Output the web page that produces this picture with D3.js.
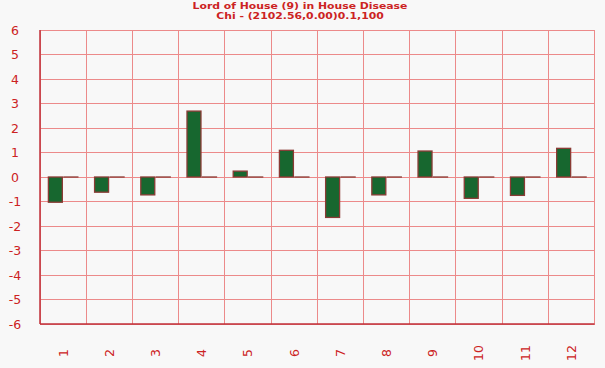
<!DOCTYPE html>
<html><head><meta charset="utf-8">
<script src="https://cdn.jsdelivr.net/npm/d3@7"></script>
<style>body{margin:0;background:#f8f8f8}svg{display:block}</style>
</head><body>
<svg id="c" width="605" height="368"></svg>
<script>
const categories = ["1","2","3","4","5","6","7","8","9","10","11","12"];
const seriesA = [-1.03,-0.62,-0.73,2.69,0.24,1.09,-1.65,-0.73,1.06,-0.87,-0.75,1.17];
const seriesB = [0,0,0,0,0,0,0,0,0,0,0,0];
const yTicks = [-6,-5,-4,-3,-2,-1,0,1,2,3,4,5,6];
const titleLines = ["Lord of House (9)  in House Disease","Chi - (2102.56,0.00)0.1,100"];

const svg = d3.select("#c");
const L=40, R=594.5, T=30, B=324;
const red="#cc2222", grid="#ec8a8a", axis="#c0303a";
svg.append("rect").attr("width",605).attr("height",368).attr("fill","#f8f8f8");

const x = d3.scaleBand().domain(categories).range([L,R]).paddingInner(0).paddingOuter(0);
const y = d3.scaleLinear().domain([-6,6]).range([B,T]);
const inner = d3.scaleBand().domain(["a","b"]).range([0,x.bandwidth()]).paddingInner(0.097).paddingOuter(0.54);

// grid horizontal
svg.append("g").selectAll("line").data(yTicks).join("line")
  .attr("x1",L).attr("x2",R).attr("y1",d=>y(d)).attr("y2",d=>y(d))
  .attr("stroke",grid).attr("stroke-width",1).attr("shape-rendering","crispEdges");
// grid vertical
svg.append("g").selectAll("line").data(d3.range(categories.length+1)).join("line")
  .attr("x1",i=>L+i*x.step()).attr("x2",i=>L+i*x.step()).attr("y1",T).attr("y2",B)
  .attr("stroke",grid).attr("stroke-width",1).attr("shape-rendering","crispEdges");

// bars
const g = svg.append("g");
categories.forEach((c,i)=>{
  const vals=[["a",seriesA[i]],["b",seriesB[i]]];
  vals.forEach(([k,v])=>{
    const y0=y(Math.max(0,v)), h=Math.abs(y(v)-y(0));
    g.append("rect").attr("x",x(c)+inner(k)).attr("y",y0).attr("width",inner.bandwidth()).attr("height",Math.max(h,0.01))
      .attr("fill","#17672f").attr("stroke","#8a3b35").attr("stroke-width",1.3);
  });
});

// axes lines
svg.append("line").attr("x1",L).attr("x2",L).attr("y1",T).attr("y2",B).attr("stroke",axis).attr("stroke-width",1.5);
svg.append("line").attr("x1",L).attr("x2",R).attr("y1",B).attr("y2",B).attr("stroke",axis).attr("stroke-width",1.5);

// y labels
svg.append("g").selectAll("text").data(yTicks).join("text")
  .attr("x",15).attr("y",d=>y(d)).attr("dy","0.36em").attr("text-anchor","middle")
  .attr("font-family","DejaVu Sans").attr("font-size",12.5).attr("fill",red).text(d=>d);

// x labels
svg.append("g").selectAll("text").data(categories).join("text")
  .attr("transform",d=>`translate(${x(d)+x.bandwidth()/2},353) rotate(-90)`)
  .attr("text-anchor","middle").attr("dy","0.36em")
  .attr("font-family","DejaVu Sans").attr("font-size",12.5).attr("fill",red).text(d=>d);

// title
svg.append("g").selectAll("text").data(titleLines).join("text")
  .attr("transform",(d,i)=>`translate(300,${9.2+i*9.6}) scale(1.18,1)`).attr("text-anchor","middle")
  .attr("font-family","DejaVu Sans").attr("font-weight","bold").attr("font-size",9.2).attr("fill",red).text(d=>d);
</script>
</body></html>
